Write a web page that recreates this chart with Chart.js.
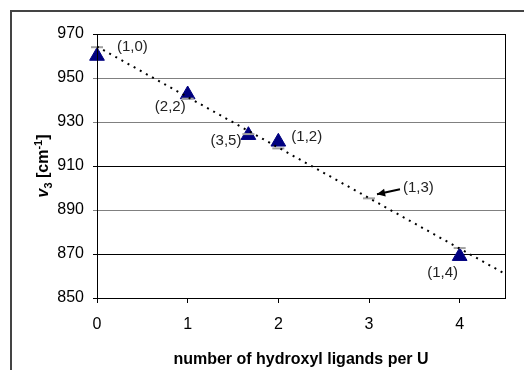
<!DOCTYPE html>
<html>
<head>
<meta charset="utf-8">
<script src="https://cdn.jsdelivr.net/npm/chart.js@4.4.1/dist/chart.umd.min.js"></script>
<style>
  html, body { margin: 0; padding: 0; background: #fff; }
  #wrap { position: relative; width: 524px; height: 370px; }
</style>
</head>
<body>
<div id="wrap"><canvas id="chart"></canvas></div>
<script>
// observed frequencies (triangles)
const xObs = [0, 1, 1.67, 2, 4];
const yObs = [960, 942.5, 924, 921, 869];
// calculated values (grey dashes)
const xCalc = [0, 1, 1.67, 2, 3, 4];
const yCalc = [964, 940.6, 924.5, 918, 895.3, 872.7];
// linear trendline end points
const trendX = [0, 4.5];
const trendY = [964.3, 861];

const yTicks = [850, 870, 890, 910, 930, 950, 970];
const xTitle = 'number of hydroxyl ligands per U';

// label text, which series/point it sits next to, and where
const pointLabels = [
  { text: '(1,0)', set: 0, i: 0, dx: 20, dy: -9, align: 'left' },
  { text: '(2,2)', set: 0, i: 1, dx: -2, dy: 12, align: 'right' },
  { text: '(3,5)', set: 0, i: 2, dx: -7, dy: 6, align: 'right' },
  { text: '(1,2)', set: 0, i: 3, dx: 13, dy: -5, align: 'left' },
  { text: '(1,3)', set: 1, i: 4, dx: 34, dy: -10, align: 'left', arrow: [31, -9, 8, -4] },
  { text: '(1,4)', set: 0, i: 4, dx: -17, dy: 17, align: 'center' },
];

const FONT = '"Liberation Sans", Arial';
const toPts = (xs, ys) => xs.map((x, i) => ({ x, y: ys[i] }));
const GREY_LINES = [950, 930, 890];

const frame = {
  id: 'frame',
  beforeDraw(chart) {
    const c = chart.ctx;
    c.save();
    c.strokeStyle = '#444';
    c.lineWidth = 2;
    c.beginPath();
    c.moveTo(11, chart.height);
    c.lineTo(11, 11);
    c.lineTo(chart.width, 11);
    c.stroke();
    c.restore();
  },
  afterDraw(chart) {
    const { ctx: c, chartArea: a, scales } = chart;
    c.save();
    c.strokeStyle = '#000';
    c.lineWidth = 1;
    c.strokeRect(Math.round(a.left) + 0.5, Math.round(a.top) + 0.5,
      Math.round(a.right - a.left), Math.round(a.bottom - a.top));

    // y axis title: nu_3 [cm^-1], drawn piecewise for sub/superscripts
    const parts = [
      { t: 'v', f: `italic bold 16px ${FONT}`, dy: 0 },
      { t: '3', f: `bold 11px ${FONT}`, dy: 4 },
      { t: ' [cm', f: `bold 16px ${FONT}`, dy: 0 },
      { t: '-1', f: `bold 11px ${FONT}`, dy: -6 },
      { t: ']', f: `bold 16px ${FONT}`, dy: 0 },
    ];
    let total = 0;
    parts.forEach(p => { c.font = p.f; p.w = c.measureText(p.t).width; total += p.w; });
    const cy = (a.top + a.bottom) / 2;
    c.translate(48, cy);
    c.rotate(-Math.PI / 2);
    c.fillStyle = '#000';
    c.textBaseline = 'alphabetic';
    c.textAlign = 'left';
    let px = -total / 2;
    parts.forEach(p => { c.font = p.f; c.fillText(p.t, px, p.dy); px += p.w; });
    c.setTransform(1, 0, 0, 1, 0, 0);

    // point labels
    c.font = `15px ${FONT}`;
    c.fillStyle = '#222';
    c.textBaseline = 'middle';
    pointLabels.forEach(l => {
      const d = chart.data.datasets[l.set].data[l.i];
      const x = scales.x.getPixelForValue(d.x);
      const y = scales.y.getPixelForValue(d.y);
      c.textAlign = l.align;
      c.fillText(l.text, x + l.dx, y + l.dy);
      if (l.arrow) {
        const [x1, y1, x2, y2] = l.arrow;
        const sx = x + x1, sy = y + y1, ex = x + x2, ey = y + y2;
        c.strokeStyle = '#000';
        c.lineWidth = 2;
        c.beginPath();
        c.moveTo(sx, sy);
        c.lineTo(ex, ey);
        c.stroke();
        const ang = Math.atan2(ey - sy, ex - sx);
        c.fillStyle = '#000';
        c.beginPath();
        c.moveTo(ex, ey);
        c.lineTo(ex - 9 * Math.cos(ang - 0.45), ey - 9 * Math.sin(ang - 0.45));
        c.lineTo(ex - 9 * Math.cos(ang + 0.45), ey - 9 * Math.sin(ang + 0.45));
        c.closePath();
        c.fill();
        c.fillStyle = '#222';
      }
    });
    c.restore();
  },
};

const ctx = document.getElementById('chart').getContext('2d');
new Chart(ctx, {
  type: 'scatter',
  data: {
    datasets: [
      {
        label: 'observed',
        data: toPts(xObs, yObs),
        pointStyle: 'triangle',
        radius: 8.5,
        backgroundColor: '#000080',
        borderColor: '#000080',
        borderWidth: 1,
        clip: false,
        order: 2,
      },
      {
        label: 'calculated',
        data: toPts(xCalc, yCalc),
        pointStyle: 'line',
        radius: 6,
        borderColor: '#a0a0a0',
        borderWidth: 2,
        clip: false,
        order: 1,
      },
      {
        label: 'trend',
        data: toPts(trendX, trendY),
        showLine: true,
        borderColor: '#000',
        borderWidth: 2,
        borderDash: [2, 5],
        pointRadius: 0,
        clip: false,
        order: 0,
      },
    ],
  },
  options: {
    responsive: true,
    maintainAspectRatio: false,
    animation: false,
    layout: { padding: { top: 34, right: 19, left: 0, bottom: 0 } },
    plugins: { legend: { display: false }, tooltip: { enabled: false } },
    scales: {
      x: {
        type: 'linear',
        min: 0,
        max: 4.5,
        afterFit: s => { s.height = 72; },
        ticks: {
          stepSize: 1,
          includeBounds: false,
          padding: 12,
          color: '#000',
          font: { family: FONT, size: 16 },
        },
        grid: { drawOnChartArea: false, drawTicks: true, tickLength: 5, color: '#000' },
        border: { display: true, color: '#000' },
        title: {
          display: true,
          text: xTitle,
          color: '#000',
          font: { family: FONT, size: 16, weight: 'bold' },
          padding: { top: 0, bottom: 1 },
        },
      },
      y: {
        min: 850,
        max: 970,
        afterFit: s => { s.width = 97; },
        afterBuildTicks: s => { s.ticks = yTicks.map(v => ({ value: v })); },
        ticks: {
          padding: 9,
          color: '#000',
          font: { family: FONT, size: 16 },
        },
        grid: {
          tickLength: 4,
          color: c => (GREY_LINES.includes(c.tick && c.tick.value) ? '#808080' : '#000'),
          lineWidth: 1,
        },
        border: { display: true, color: '#000' },
      },
    },
  },
  plugins: [frame],
});
</script>
</body>
</html>
